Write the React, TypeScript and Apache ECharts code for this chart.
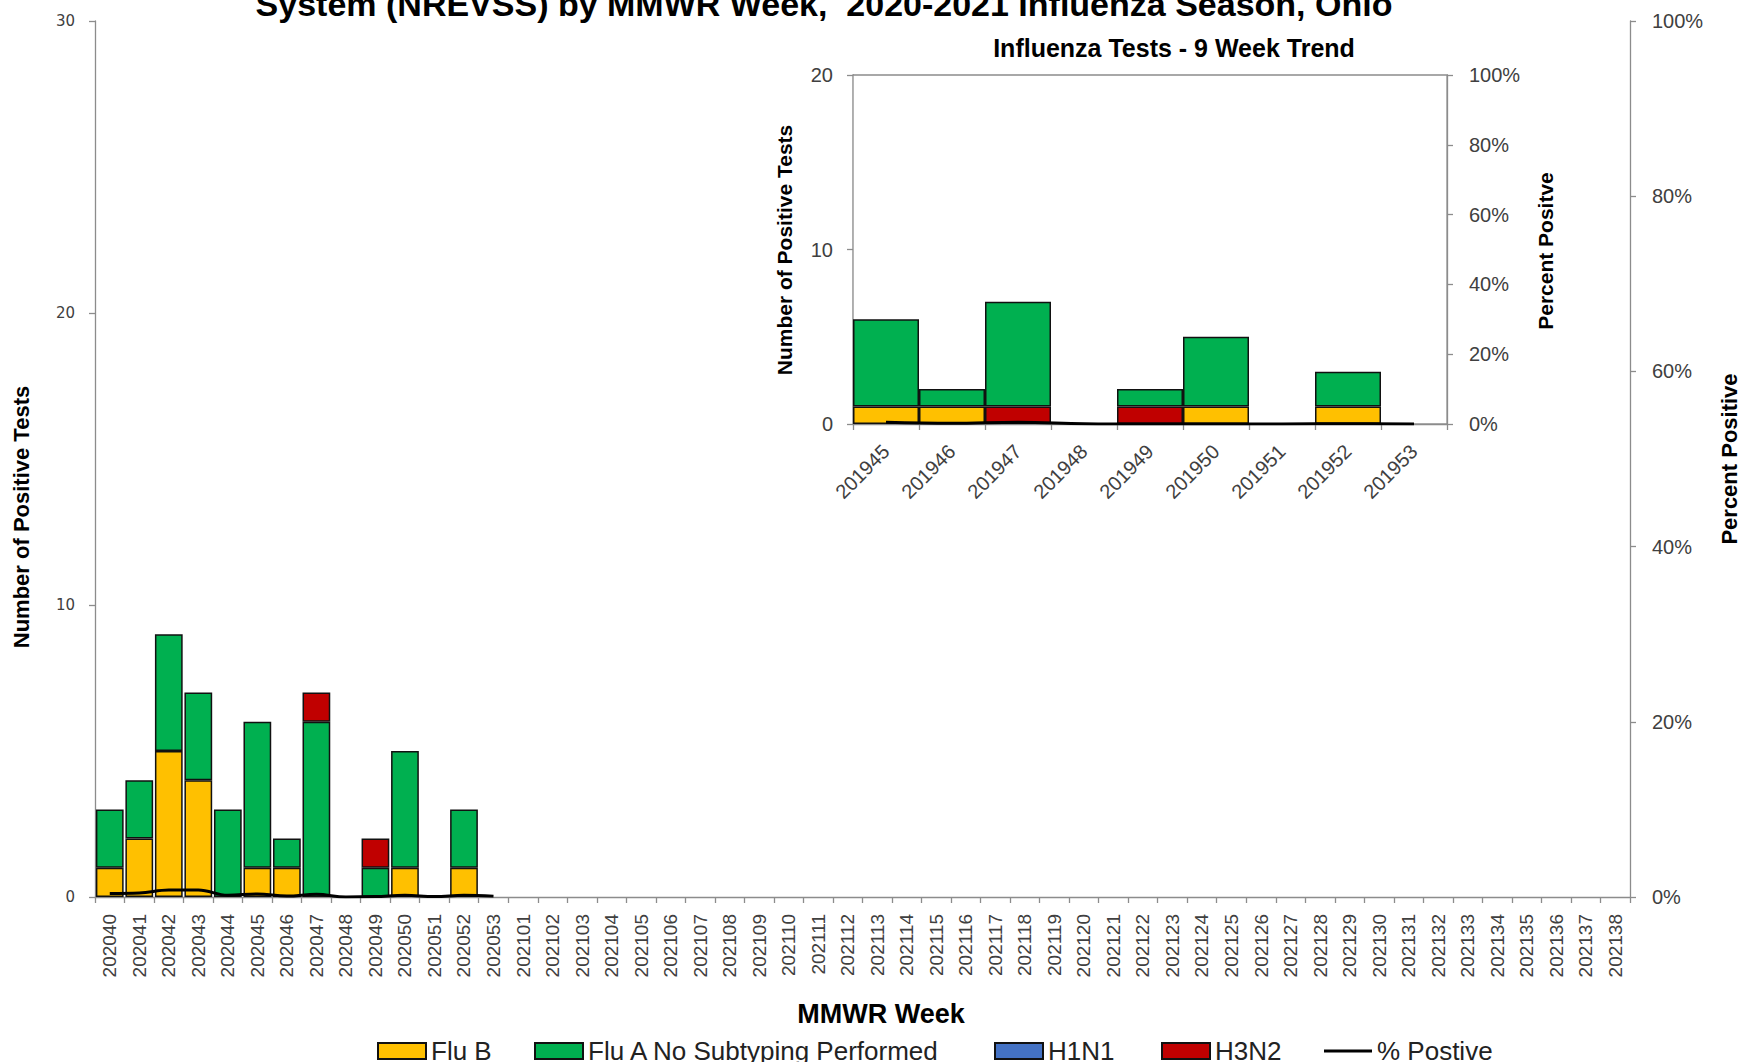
import React, { useEffect, useRef } from "react";
import * as echarts from "echarts";

const weeks = [
  "202040", "202041", "202042", "202043", "202044", "202045", "202046", "202047", "202048", "202049",
  "202050", "202051", "202052", "202053", "202101", "202102", "202103", "202104", "202105", "202106",
  "202107", "202108", "202109", "202110", "202111", "202112", "202113", "202114", "202115", "202116",
  "202117", "202118", "202119", "202120", "202121", "202122", "202123", "202124", "202125", "202126",
  "202127", "202128", "202129", "202130", "202131", "202132", "202133", "202134", "202135", "202136",
  "202137", "202138",
];
const fluB = [1, 2, 5, 4, 0, 1, 1, 0, 0, 0, 1, 0, 1, 0];
const fluA = [2, 2, 4, 3, 3, 5, 1, 6, 0, 1, 4, 0, 2, 0];
const h1n1 = [0, 0, 0, 0, 0, 0, 0, 0, 0, 0, 0, 0, 0, 0];
const h3n2 = [0, 0, 0, 0, 0, 0, 0, 1, 0, 1, 0, 0, 0, 0];
const pctPositive = [0.4, 0.45, 0.8, 0.8, 0.2, 0.35, 0.1, 0.3, 0.0, 0.05, 0.2, 0.05, 0.2, 0.1];

const trendWeeks = ["201945", "201946", "201947", "201948", "201949", "201950", "201951", "201952", "201953"];
const trendFluB = [1, 1, 0, 0, 0, 1, 0, 1, 0];
const trendFluA = [5, 1, 6, 0, 1, 4, 0, 2, 0];
const trendH1N1 = [0, 0, 0, 0, 0, 0, 0, 0, 0];
const trendH3N2 = [0, 0, 1, 0, 1, 0, 0, 0, 0];
const trendPct = [0.5, 0.2, 0.5, 0.1, 0, 0, 0, 0.1, 0];

const mainTicks = [0, 10, 20, 30];
const pctTicks = [0, 20, 40, 60, 80, 100];

const C_FLUB = "#FFC000";
const C_FLUA = "#00B050";
const C_H1N1 = "#4472C4";
const C_H3N2 = "#C00000";
const AXIS = "#8c8c8c";
const LABEL = "#404040";
const FONT = "Liberation Sans, Arial, sans-serif";

const nz = (arr: number[]) => arr.map((v) => (v === 0 ? "-" : v));

export default function App() {
  const ref = useRef<HTMLDivElement>(null);
  useEffect(() => {
    document.body.style.margin = "0";
    const chart = echarts.init(ref.current!, null, { renderer: "svg" });
    const barStyle = (color: string) => ({ color, borderColor: "#111", borderWidth: 1.5 });
    const axisLine = { show: true, lineStyle: { color: AXIS, width: 1.3 } };
    const axisTick = { show: true, length: 6, lineStyle: { color: AXIS, width: 1.3 } };

    const legendItem = (name: string, left: number, h = 16) => ({
      data: [name],
      left,
      top: 1033,
      icon: "rect",
      itemWidth: 48,
      itemHeight: h,
      itemGap: 0,
      textStyle: { fontSize: 26, fontFamily: FONT, color: "#222" },
    });

    const txt = (text: string, x: number, y: number, font: string, rotation = 0) => ({
      type: "text", x, y, rotation, z: 20,
      style: { text, font, fill: "#000", align: "center", verticalAlign: "middle", textAlign: "center", textVerticalAlign: "middle" },
    });

    const option: any = {
      animation: false,
      backgroundColor: "#fff",
      grid: [
        { left: 95, right: 112, top: 21, bottom: 165, outerBoundsMode: "none", containLabel: false },
        {
          left: 853, right: 295, top: 75, bottom: 638, outerBoundsMode: "none", containLabel: false,
          show: true, borderColor: AXIS, borderWidth: 1.3, backgroundColor: "#fff", z: 5,
        },
      ],
      legend: [
        legendItem("Flu B", 372),
        legendItem("Flu A No Subtyping Performed", 529),
        legendItem("H1N1", 989),
        legendItem("H3N2", 1156),
        legendItem("% Postive", 1319, 3),
      ],
      xAxis: [
        {
          type: "category", gridIndex: 0, data: weeks, boundaryGap: true,
          axisLine, axisTick,
          axisLabel: { rotate: 90, interval: 0, fontSize: 19, fontFamily: FONT, color: LABEL, margin: 17 },
          splitLine: { show: false },
        },
        {
          type: "category", gridIndex: 1, data: trendWeeks, boundaryGap: true,
          axisLine, axisTick,
          axisLabel: { rotate: 45, interval: 0, fontSize: 20, fontFamily: FONT, color: LABEL, margin: 24 },
          splitLine: { show: false },
        },
      ],
      yAxis: [
        {
          type: "value", gridIndex: 0, position: "left", min: mainTicks[0], max: mainTicks[3], interval: 10,
          axisLine, axisTick, splitLine: { show: false },
          axisLabel: { fontSize: 15, fontFamily: "DejaVu Sans, sans-serif", color: LABEL, margin: 20 },
        },
        {
          type: "value", gridIndex: 0, position: "right", min: pctTicks[0], max: pctTicks[5], interval: 20,
          axisLine, axisTick, splitLine: { show: false },
          axisLabel: { fontSize: 20, fontFamily: FONT, color: LABEL, margin: 22, formatter: "{value}%" },
        },
        {
          type: "value", gridIndex: 1, position: "left", min: 0, max: 20, interval: 10,
          axisLine, axisTick, splitLine: { show: false },
          axisLabel: { fontSize: 20, fontFamily: FONT, color: LABEL, margin: 20 },
        },
        {
          type: "value", gridIndex: 1, position: "right", min: 0, max: 100, interval: 20,
          axisLine, axisTick, splitLine: { show: false },
          axisLabel: { fontSize: 20, fontFamily: FONT, color: LABEL, margin: 22, formatter: "{value}%" },
        },
      ],
      series: [
        { name: "Flu B", type: "bar", stack: "main", xAxisIndex: 0, yAxisIndex: 0, barCategoryGap: "6%", data: nz(fluB), itemStyle: barStyle(C_FLUB) },
        { name: "Flu A No Subtyping Performed", type: "bar", stack: "main", xAxisIndex: 0, yAxisIndex: 0, data: nz(fluA), itemStyle: barStyle(C_FLUA) },
        { name: "H1N1", type: "bar", stack: "main", xAxisIndex: 0, yAxisIndex: 0, data: nz(h1n1), itemStyle: barStyle(C_H1N1) },
        { name: "H3N2", type: "bar", stack: "main", xAxisIndex: 0, yAxisIndex: 0, data: nz(h3n2), itemStyle: barStyle(C_H3N2) },
        {
          name: "% Postive", type: "line", xAxisIndex: 0, yAxisIndex: 1, data: pctPositive, smooth: 0.4,
          symbol: "none", lineStyle: { color: "#000", width: 3 }, itemStyle: { color: "#000" }, z: 10,
        },
        { name: "Flu B", type: "bar", stack: "trend", xAxisIndex: 1, yAxisIndex: 2, barCategoryGap: "0%", data: nz(trendFluB), itemStyle: barStyle(C_FLUB), z: 6 },
        { name: "H1N1", type: "bar", stack: "trend", xAxisIndex: 1, yAxisIndex: 2, data: nz(trendH1N1), itemStyle: barStyle(C_H1N1), z: 6 },
        { name: "H3N2", type: "bar", stack: "trend", xAxisIndex: 1, yAxisIndex: 2, data: nz(trendH3N2), itemStyle: barStyle(C_H3N2), z: 6 },
        { name: "Flu A No Subtyping Performed", type: "bar", stack: "trend", xAxisIndex: 1, yAxisIndex: 2, data: nz(trendFluA), itemStyle: barStyle(C_FLUA), z: 6 },
        {
          name: "% Postive", type: "line", xAxisIndex: 1, yAxisIndex: 3, data: trendPct, smooth: 0.4,
          symbol: "none", lineStyle: { color: "#000", width: 3 }, itemStyle: { color: "#000" }, z: 11,
        },
      ],
      graphic: [
        txt("System (NREVSS) by MMWR Week,  2020-2021 Influenza Season, Ohio", 824, 4, `bold 34px ${FONT}`),
        txt("Influenza Tests - 9 Week Trend", 1174, 48, `bold 25px ${FONT}`),
        txt("Number of Positive Tests", 21, 517, `bold 22px ${FONT}`, Math.PI / 2),
        txt("Percent Positive", 1729, 459, `bold 22px ${FONT}`, Math.PI / 2),
        txt("MMWR Week", 881, 1014, `bold 27px ${FONT}`),
        txt("Number of Positive Tests", 784, 250, `bold 21px ${FONT}`, Math.PI / 2),
        txt("Percent Positve", 1545, 251, `bold 21px ${FONT}`, Math.PI / 2),
      ],
    };
    chart.setOption(option);
    return () => chart.dispose();
  }, []);
  return <div ref={ref} style={{ width: 1742, height: 1062 }} />;
}
